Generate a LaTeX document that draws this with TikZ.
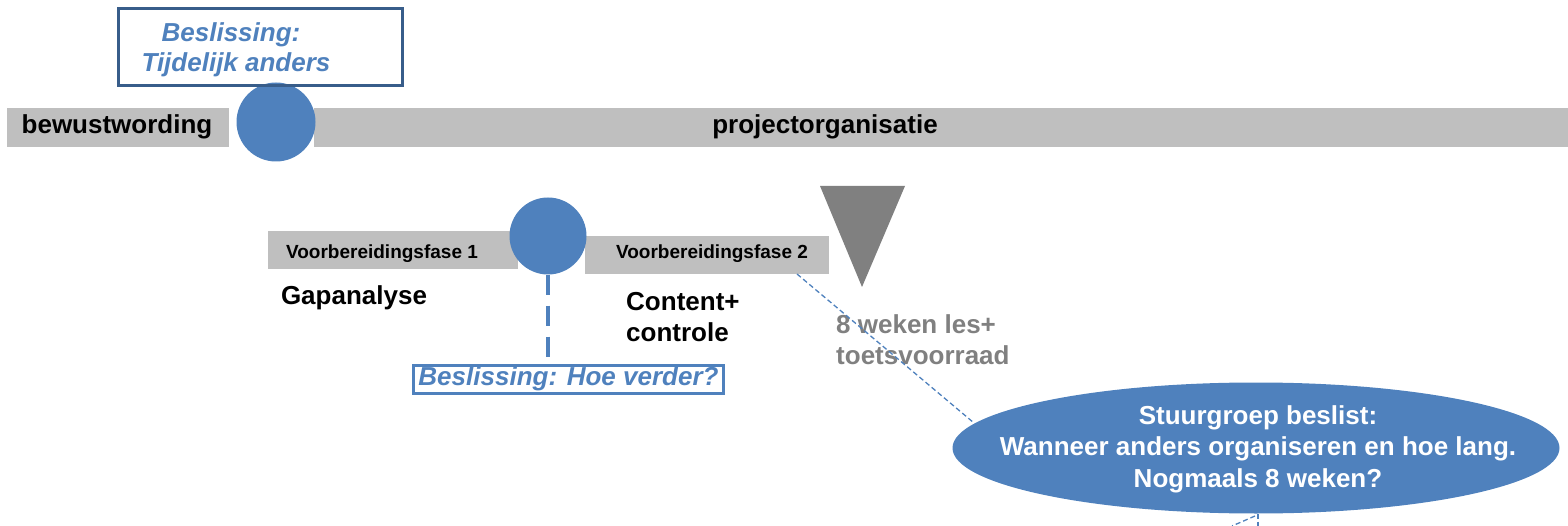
\documentclass[tikz,border=0pt]{standalone}
\usepackage{fontspec}
\setmainfont{Liberation Sans}
\usetikzlibrary{shapes.geometric}
\definecolor{blu}{HTML}{4F81BD}
\definecolor{dblu}{HTML}{385D8A}
\definecolor{barc}{HTML}{BFBFBF}
\definecolor{tric}{HTML}{808080}
\begin{document}
\begin{tikzpicture}[x=1pt,y=-1pt,
  barbox/.style={fill=barc, draw=none, inner sep=0pt, anchor=north west},
  bigtxt/.style={font=\fontsize{26}{31}\selectfont\bfseries, inner sep=0pt},
  smalltxt/.style={font=\fontsize{19}{23}\selectfont\bfseries, inner sep=0pt},
  dot/.style={circle, fill=blu, draw=none, inner sep=0pt},
  decision/.style={font=\fontsize{26}{30}\selectfont\bfseries\itshape, text=blu, inner sep=0pt, align=center},
  thindash/.style={blu, line width=1.3pt, dash pattern=on 5pt off 3pt}
]
\useasboundingbox (0,0) rectangle (1568,526);

% top timeline bars
\node[barbox, minimum width=222pt, minimum height=39pt] (bbar) at (7,108) {};
\node[barbox, minimum width=1254pt, minimum height=39pt] (pbar) at (314,108) {};
\node[bigtxt] (bew) at (117,127) {bewustwording};
\node[bigtxt] (proj) at (825,127) {projectorganisatie};

% first decision
\node[dot, minimum size=79pt] (c1) at (276,122) {};
\node[draw=dblu, line width=3pt, minimum width=284pt, minimum height=77pt, inner sep=0pt, anchor=north west] (b1) at (117,7) {};
\node[decision] (t1) at (236,50) {\hspace*{-10pt}Beslissing:\\Tijdelijk anders};

% phase bars
\node[barbox, minimum width=250pt, minimum height=38pt] (v1bar) at (268,231) {};
\node[barbox, minimum width=244pt, minimum height=38pt] (v2bar) at (585,236) {};
\node[smalltxt] (v1) at (382,254) {Voorbereidingsfase 1};
\node[smalltxt] (v2) at (712,254) {Voorbereidingsfase 2};
\node[dot, minimum size=77pt] (c2) at (548,236) {};

% triangle
\fill[tric] (820,186) -- (905,186) -- (862,287) -- cycle;

% phase contents
\node[bigtxt] (gap) at (354,298) {Gapanalyse};
\node[bigtxt, anchor=west, align=left] (cont) at (626,317) {Content+\\controle};
\node[bigtxt, anchor=west, align=left, text=tric] (wk) at (836,340) {8 weken les+\\toetsvoorraad};

% second decision
\node[draw=blu, line width=3pt, minimum width=310pt, minimum height=28pt, inner sep=0pt, anchor=north west,
      font=\fontsize{26}{28}\selectfont\bfseries\itshape, text=blu] (hv) at (412,364) {\underline{Beslissing: Hoe verder?}};
\draw[blu, line width=4pt, dash pattern=on 20pt off 11pt] (c2.south) -- (c2.south |- hv.north);

% steering group
\node[ellipse, fill=blu, draw=none, minimum width=607pt, minimum height=131pt, inner sep=0pt] (sg) at (1256,448) {};
\node[font=\fontsize{26}{31.5}\selectfont\bfseries, text=white, align=center, inner sep=0pt] (sgt) at (1258,449)
  {Stuurgroep beslist:\\Wanneer anders organiseren en hoe lang.\\Nogmaals 8 weken?};

% thin dashed connector
\coordinate (d1) at (797,274);
\draw[thindash] (d1) -- (sg.175.5);

% fragments below the ellipse
\coordinate (e1) at (1258,526);
\coordinate (e2) at (1232,526);
\draw[thindash] (sg.south -| e1) -- (e1);
\draw[thindash] (1255,516) -- (e2);
\end{tikzpicture}
\end{document}
